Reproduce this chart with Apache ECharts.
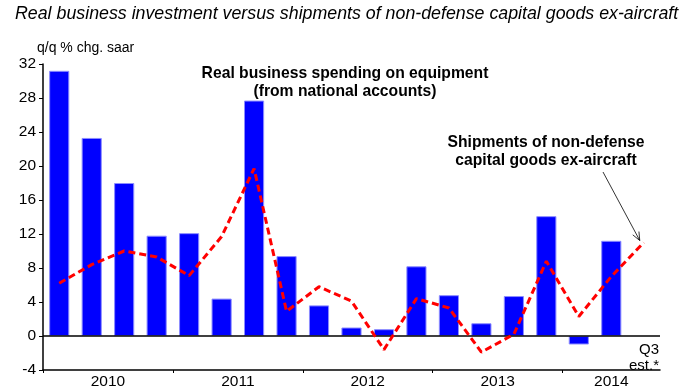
<!DOCTYPE html>
<html>
<head>
<meta charset="utf-8">
<script src="https://cdn.jsdelivr.net/npm/echarts@6/dist/echarts.min.js"></script>
<style>html,body{margin:0;padding:0;background:#fff;}#c{width:696px;height:390px;}</style>
</head>
<body>
<div id="c"></div>
<script>
var quarters = ['2010Q1','2010Q2','2010Q3','2010Q4','2011Q1','2011Q2','2011Q3','2011Q4','2012Q1','2012Q2','2012Q3','2012Q4','2013Q1','2013Q2','2013Q3','2013Q4','2014Q1','2014Q2','2014Q3'];
var equipmentSpending = [31.2, 23.3, 18.0, 11.8, 12.1, 4.4, 27.7, 9.4, 3.6, 1.0, 0.8, 8.2, 4.8, 1.5, 4.7, 14.1, -1.0, 11.2, null];
var coreShipments = [6.2, 8.4, 10.0, 9.3, 7.1, 11.7, 19.7, 2.9, 5.8, 4.1, -1.6, 4.4, 3.3, -1.9, 0.2, 8.8, 2.3, 7.0, 11.0];
var yearLabels = ['2010','2011','2012','2013','2014'];
var yearStarts = [0, 4, 8, 12, 16];
var yearCenters = [2, 6, 10, 14, 17.5];

var FONT = 'Liberation Sans, Arial, sans-serif';
var chart = echarts.init(document.getElementById('c'));
var option = {
  animation: false,
  backgroundColor: '#fff',
  textStyle: {fontFamily: FONT},
  grid: {left: 43, right: 36, top: 64, bottom: 18, containLabel: false},
  xAxis: [
    {type: 'category', data: quarters, show: false, boundaryGap: true},
    {type: 'value', min: 0, max: quarters.length, position: 'bottom',
     axisLine: {show: true, onZero: false, lineStyle: {color: '#000', width: 1.5}},
     splitLine: {show: false},
     axisTick: {show: true, customValues: yearStarts, length: 3, lineStyle: {color: '#000'}},
     axisLabel: {show: true, customValues: yearCenters, margin: 4, color: '#000', fontSize: 15.5, fontFamily: FONT,
       formatter: function (v) { var i = yearCenters.indexOf(v); return i >= 0 ? yearLabels[i] : ''; }}
    }
  ],
  yAxis: {
    type: 'value', min: -4, max: 32, interval: 4,
    axisLine: {show: true, onZero: false, lineStyle: {color: '#000', width: 1.5}},
    axisTick: {show: true, inside: false, length: 4, lineStyle: {color: '#000'}},
    axisLabel: {color: '#000', fontSize: 15.5, margin: 7, fontFamily: FONT},
    splitLine: {show: false}
  },
  series: [
    {
      type: 'bar', xAxisIndex: 0, data: equipmentSpending, barCategoryGap: '38%',
      itemStyle: {color: '#0000ff', borderColor: '#8c8cff', borderWidth: 1},
      markLine: {silent: true, symbol: 'none', label: {show: false},
        lineStyle: {color: '#000', width: 1.5, type: 'solid'}, data: [{yAxis: 0}]}
    },
    {
      type: 'line', xAxisIndex: 0, data: coreShipments, symbol: 'none', z: 5,
      lineStyle: {color: '#ff0000', width: 3, type: [7, 4]}
    }
  ],
  graphic: [
    {type: 'text', left: 15, top: 5, style: {text: 'Real business investment versus shipments of non-defense capital goods ex-aircraft', font: 'italic 17.8px ' + FONT, fill: '#000'}},
    {type: 'text', left: 37, top: 41, style: {text: 'q/q % chg. saar', font: '14px ' + FONT, fill: '#000'}},
    {type: 'text', x: 345, y: 64, style: {text: 'Real business spending on equipment\n(from national accounts)', font: 'bold 15.7px ' + FONT, fill: '#000', align: 'center', lineHeight: 18.5}},
    {type: 'text', x: 546, y: 134, style: {text: 'Shipments of non-defense\ncapital goods ex-aircraft', font: 'bold 15.7px ' + FONT, fill: '#000', align: 'center', lineHeight: 18}},
    {type: 'text', x: 659, y: 342, style: {text: 'Q3\nest.*', font: '15px ' + FONT, fill: '#000', align: 'right', lineHeight: 16}}
  ]
};
chart.setOption(option);

var end = chart.convertToPixel({xAxisIndex: 0, yAxisIndex: 0}, [quarters.length - 1, coreShipments[quarters.length - 1]]);
var sx = 603, sy = 172;
var ex = end[0] - 4, ey = end[1] - 2;
var ang = Math.atan2(ey - sy, ex - sx);
var ah = 9, aw = 0.4;
chart.setOption({graphic: option.graphic.concat([
  {type: 'line', shape: {x1: sx, y1: sy, x2: ex, y2: ey}, style: {stroke: '#000', lineWidth: 0.8}},
  {type: 'polyline', shape: {points: [
    [ex - ah * Math.cos(ang - aw), ey - ah * Math.sin(ang - aw)], [ex, ey],
    [ex - ah * Math.cos(ang + aw), ey - ah * Math.sin(ang + aw)]]}, style: {stroke: '#000', lineWidth: 0.8, fill: null}}
])});
</script>
</body>
</html>
